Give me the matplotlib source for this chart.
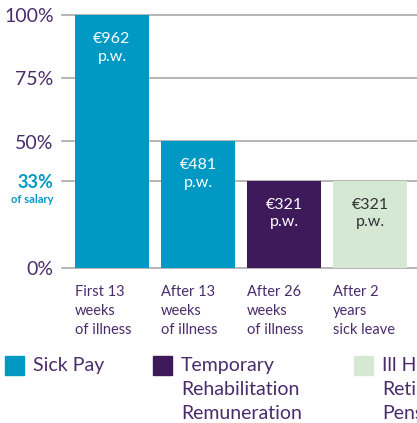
import matplotlib.pyplot as plt

# data
categories = ["First 13\nweeks\nof illness", "After 13\nweeks\nof illness",
              "After 26\nweeks\nof illness", "After 2\nyears\nsick leave"]
pct_of_salary = [100, 50, 34.4, 34.4]
weekly_amount = ["€962\np.w.", "€481\np.w.", "€321\np.w.", "€321\np.w."]
scheme = ["Sick Pay", "Sick Pay", "Temporary", "Ill Health"]
ytick_values = [0, 34.4, 50, 75, 100]
ytick_labels = ["0%", "", "50%", "75%", "100%"]
legend_labels = ["Sick Pay", "Temporary\nRehabilitation\nRemuneration",
                 "Ill Health\nRetirement\nPension"]

BLUE = "#0099c4"
PURPLE = "#3e1a5a"
GREEN = "#d5e8d4"
TEXT = "#4a2c6b"
colors = {"Sick Pay": BLUE, "Temporary": PURPLE, "Ill Health": GREEN}
label_colors = {"Sick Pay": "white", "Temporary": "white", "Ill Health": "#333333"}

plt.rcParams["font.family"] = ["Lato", "DejaVu Sans"]

W, H = 417, 423
fig = plt.figure(figsize=(W / 100, H / 100), dpi=100)

# axes placed in pixel terms: x from 62 to right edge, y from 268 (0%) to 15 (100%)
ax = fig.add_axes([62 / W, (H - 268) / H, 1 - 62 / W, (268 - 15) / H])
ax.set_ylim(0, 100)
ax.set_xlim(-0.581, 3.547)

xs = list(range(len(categories)))
for yv in ytick_values:
    ax.axhline(yv, color="#b0b0b0", lw=1.3, zorder=0, clip_on=False)

ax.bar(xs, pct_of_salary, width=0.86, color=[colors[s] for s in scheme], zorder=2)

for x, v, lab, s in zip(xs, pct_of_salary, weekly_amount, scheme):
    ax.annotate(lab, (x, v), xytext=(0, -12), textcoords="offset points",
                ha="center", va="top", color=label_colors[s], fontsize=11.5,
                linespacing=1.35, zorder=3)

ax.set_yticks(ytick_values)
ax.set_yticklabels(ytick_labels, fontsize=14, color=TEXT)
ax.tick_params(axis="y", length=0, pad=6)
ax.set_xticks([])
for sp in ax.spines.values():
    sp.set_visible(False)

# highlighted 33% tick
ax.annotate("33%", (0, 34.4), xycoords=("axes fraction", "data"), xytext=(-6, -1),
            textcoords="offset points", ha="right", va="center",
            fontsize=13, fontweight="bold", color=BLUE)
ax.annotate("of salary", (0, 34.4), xycoords=("axes fraction", "data"), xytext=(-6, -13),
            textcoords="offset points", ha="right", va="center",
            fontsize=8, fontweight="bold", color=BLUE)

# category labels, left-aligned under each bar
for x, c in zip(xs, categories):
    ax.annotate(c, (x - 0.43, 0), xytext=(0, -12), textcoords="offset points",
                ha="left", va="top", fontsize=10.5, color=TEXT, linespacing=1.45)

# legend drawn by hand to keep the wide spacing
legend_x = [5, 153, 354]
for lx, lab, col in zip(legend_x, legend_labels, [BLUE, PURPLE, GREEN]):
    fig.patches.append(plt.Rectangle((lx / W, (H - 375) / H), 19 / W, 19 / H,
                                     transform=fig.transFigure, color=col))
    fig.text((lx + 28) / W, (H - 357) / H, lab, ha="left", va="top",
             fontsize=14, color=TEXT, linespacing=1.5)

fig.savefig("out.png", dpi=100)
